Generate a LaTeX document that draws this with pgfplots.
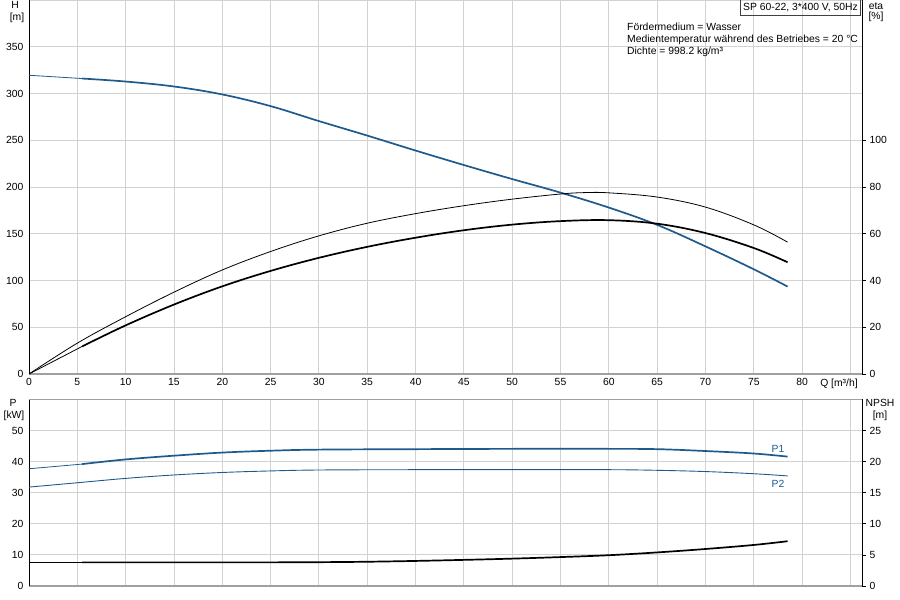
\documentclass[border=0pt]{standalone}
\usepackage{pgfplots}
\pgfplotsset{compat=1.18}
\usepackage{fontspec}
\setmainfont{Liberation Sans}
\definecolor{hblue}{HTML}{1F5A8C}
\definecolor{gridc}{HTML}{D2D2D2}
\definecolor{axgray}{HTML}{A0A0A0}
\begin{document}
\begin{tikzpicture}
\pgfplotsset{
 common/.style={
  scale only axis, width=833bp, xmin=0, xmax=86.2,
  /pgf/number format/assume math mode=true,
  tick label style={font=\fontsize{10.4}{12}\selectfont},
  grid style={gridc, line width=0.9bp},
  clip=false,
 },
 cthin/.style={line width=0.8bp, smooth, tension=0.6, mark=none},
 cthick/.style={line width=1.7bp, smooth, tension=0.6, mark=none},
}
% ---------------- top panel: H ----------------
\begin{axis}[common, name=Hax, at={(0bp,0bp)}, anchor=south west, height=374bp,
  ymin=0, ymax=400,
  axis x line*=bottom, axis y line*=left,
  x axis line style={axgray, line width=2bp, -},
  y axis line style={black, line width=0.8bp, -},
  xtick={0,5,...,85}, xticklabels={0,5,10,15,20,25,30,35,40,45,50,55,60,65,70,75,80,{}},
  ytick={0,50,...,400}, yticklabels={0,50,100,150,200,250,300,350,{}},
  major tick length=0pt, grid=major,
  xticklabel style={yshift=-1bp},
  yticklabel style={xshift=-2bp},
]
\addplot[hblue, cthin] coordinates {(0,319.5) (5.5,316)};
\addplot[hblue, cthick] coordinates {
 (5.5,316) (10,312.8) (15,307.5) (20,299) (25,286.5) (30,270.5) (35,255)
 (40,239) (45,223.5) (50,208.5) (55,194) (60,178) (65,159.5) (70,136.5)
 (75,112) (78.5,93.5)};
\end{axis}
% ---------------- top panel: eta ----------------
\begin{axis}[common, at={(Hax.south west)}, anchor=south west, height=374bp,
  ymin=0, ymax=160,
  axis x line=none, axis y line*=right,
  y axis line style={black, line width=0.8bp, -},
  ytick={0,20,...,100},
  tick align=outside, major tick length=4bp,
  tick style={black, line width=0.8bp},
]
\addplot[black, cthin] coordinates {
 (0,0) (5,13.2) (10,24.5) (15,35) (20,44.5) (25,52.4) (30,59.1) (35,64.5)
 (40,68.6) (45,72) (50,74.8) (55,77) (57.5,77.6) (60,77.5) (65,75.7)
 (70,71.4) (75,63.8) (78.5,56.4)};
\addplot[black, cthin] coordinates {(0,0) (5.5,11.8)};
\addplot[black, cthick] coordinates {
 (5.5,11.8) (10,20.8) (15,29.7) (20,37.5) (25,44.1) (30,49.7) (35,54.4)
 (40,58.3) (45,61.5) (50,63.9) (55,65.4) (60,65.8) (65,64.3) (70,60.3)
 (75,53.9) (78.5,47.8)};
\end{axis}
% ---------------- bottom panel: P ----------------
\begin{axis}[common, name=Pax, at={(0bp,-212bp)}, anchor=south west, height=186.6bp,
  ymin=0, ymax=60,
  axis x line*=bottom, axis y line*=left,
  x axis line style={axgray, line width=2bp, -},
  y axis line style={black, line width=0.8bp, -},
  xtick={0,5,...,85}, xticklabels={},
  ytick={0,10,...,60}, yticklabels={0,10,20,30,40,50,{}},
  major tick length=0pt, grid=major,
  yticklabel style={xshift=-2bp},
]
\draw[axgray, line width=1bp] (rel axis cs:0,1) -- (rel axis cs:1,1);
\addplot[hblue, cthin] coordinates {(0,37.7) (5.5,39.2)};
\addplot[hblue, cthick] coordinates {
 (5.5,39.2) (10,40.7) (15,41.9) (20,42.9) (25,43.5) (30,43.85) (40,44.0)
 (50,44.1) (60,44.1) (65,44.0) (70,43.4) (75,42.6) (78.5,41.6)};
\addplot[hblue, line width=0.9bp, smooth, tension=0.6, mark=none] coordinates {
 (0,31.8) (5,33.2) (10,34.6) (15,35.7) (20,36.5) (25,37.0) (30,37.3)
 (40,37.4) (50,37.4) (60,37.4) (65,37.2) (70,36.8) (75,36.1) (78.5,35.4)};
\end{axis}
% ---------------- bottom panel: NPSH ----------------
\begin{axis}[common, at={(Pax.south west)}, anchor=south west, height=186.6bp,
  ymin=0, ymax=30,
  axis x line=none, axis y line*=right,
  y axis line style={black, line width=0.8bp, -},
  ytick={0,5,...,25},
  tick align=outside, major tick length=4bp,
  tick style={black, line width=0.8bp},
]
\addplot[black, cthin] coordinates {(0,3.8) (5.5,3.8)};
\addplot[black, cthick] coordinates {
 (5.5,3.8) (10,3.8) (20,3.8) (25,3.8) (30,3.83) (35,3.9) (40,4.03) (45,4.2)
 (50,4.4) (55,4.65) (60,4.95) (65,5.4) (70,5.95) (75,6.6) (78.5,7.2)};
\end{axis}
% ---------------- texts ----------------
\begin{scope}[every node/.style={font=\fontsize{10.4}{12}\selectfont, inner sep=0pt}]
\node at (-14bp,369bp) {H};
\node at (-12bp,356bp) {[m]};
\node at (847bp,368bp) {eta};
\node at (847bp,357bp) {[\%]};
\node at (-16bp,-29bp) {P};
\node at (-15bp,-42bp) {[kW]};
\node at (851bp,-29bp) {NPSH};
\node at (851bp,-42bp) {[m]};
\node at (810bp,-10bp) {Q [m³/h]};
\node[hblue] at (749bp,-75bp) {P1};
\node[hblue] at (749bp,-110bp) {P2};
\draw[black!75, line width=0.6bp] (711.5bp,375bp) rectangle (831.7bp,359bp);
\node at (771.5bp,366.5bp) {SP 60-22, 3*400 V, 50Hz};
\node[anchor=west] at (598bp,347bp) {Fördermedium = Wasser};
\node[anchor=west] at (598bp,334bp) {Medientemperatur während des Betriebes = 20 °C};
\node[anchor=west] at (598bp,322bp) {Dichte = 998.2 kg/m³};
\end{scope}
\pgfresetboundingbox
\path[use as bounding box] (-29bp,-226bp) rectangle (871bp,374bp);
\end{tikzpicture}
\end{document}
